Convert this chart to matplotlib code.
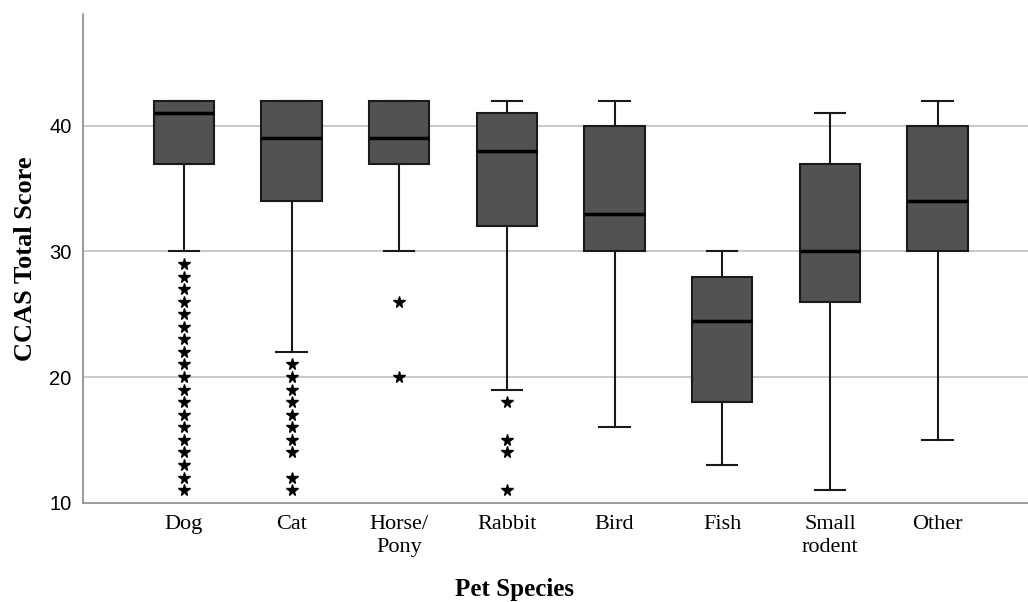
import numpy as np
import matplotlib
matplotlib.use("Agg")
import matplotlib.pyplot as plt

# Pet species and their CCAS total score box statistics
species = ["Dog", "Cat", "Horse/\nPony", "Rabbit", "Bird", "Fish", "Small\nrodent", "Other"]
whis_lo = [30, 22, 30, 19, 16, 13, 11, 15]
q1 = [37, 34, 37, 32, 30, 18, 26, 30]
median = [41, 39, 39, 38, 33, 24.5, 30, 34]
q3 = [42, 42, 42, 41, 40, 28, 37, 40]
whis_hi = [42, 42, 42, 42, 42, 30, 41, 42]

# extreme values (asterisks)
dog_out = [29, 28, 27, 26, 25, 24, 23, 22, 21, 20, 19, 18, 17, 16, 15, 14, 13, 12, 11]
cat_out = [21, 20, 19, 18, 17, 16, 15, 14, 12, 11]
horse_out = [26, 20]
rabbit_out = [18, 15, 14, 11]
outliers = [dog_out, cat_out, horse_out, rabbit_out, [], [], [], []]

yticks = [10, 20, 30, 40]

stats = []
for i in range(len(species)):
    stats.append({
        "med": median[i], "q1": q1[i], "q3": q3[i],
        "whislo": whis_lo[i], "whishi": whis_hi[i],
        "fliers": np.array(outliers[i], dtype=float),
    })

fig = plt.figure(figsize=(10.28, 6.02), dpi=100)
ax = fig.add_axes([0.0804, 0.165, 0.9196, 0.8117])

ax.bxp(stats, positions=range(len(species)), widths=0.56, capwidths=0.28,
       patch_artist=True, zorder=3,
       boxprops=dict(facecolor="#525252", edgecolor="#1a1a1a", linewidth=1.5),
       medianprops=dict(color="black", linewidth=2.5),
       whiskerprops=dict(color="#1a1a1a", linewidth=1.5),
       capprops=dict(color="#1a1a1a", linewidth=1.5),
       flierprops=dict(marker="*", markerfacecolor="black", markeredgecolor="black",
                       markersize=8.5, linestyle="none"))

ax.set_xlim(-0.94, 7.84)
ax.set_ylim(10, 48.9)
ax.set_yticks(yticks)
ax.set_yticklabels([str(t) for t in yticks], fontfamily="Liberation Sans", fontsize=14.5)
ax.set_xticks(range(len(species)))
ax.set_xticklabels(species, fontfamily="Liberation Serif", fontsize=16, linespacing=1.3)
ax.tick_params(axis="both", length=0)
ax.tick_params(axis="x", pad=9)
ax.tick_params(axis="y", pad=8)

for t in yticks[1:]:
    ax.axhline(t, color="#c0c0c0", linewidth=1.2, zorder=1)

for side in ["top", "right"]:
    ax.spines[side].set_visible(False)
for side in ["left", "bottom"]:
    ax.spines[side].set_color("#8a8a8a")
    ax.spines[side].set_linewidth(1.2)

ax.set_ylabel("CCAS Total Score", fontfamily="Liberation Serif", fontweight="bold", fontsize=19)
ax.yaxis.set_label_coords(-0.048, 0.5)
ax.set_xlabel("Pet Species", fontfamily="Liberation Serif", fontweight="bold", fontsize=18)
ax.xaxis.set_label_coords(0.457, -0.154)

fig.savefig("out.png", dpi=100)
